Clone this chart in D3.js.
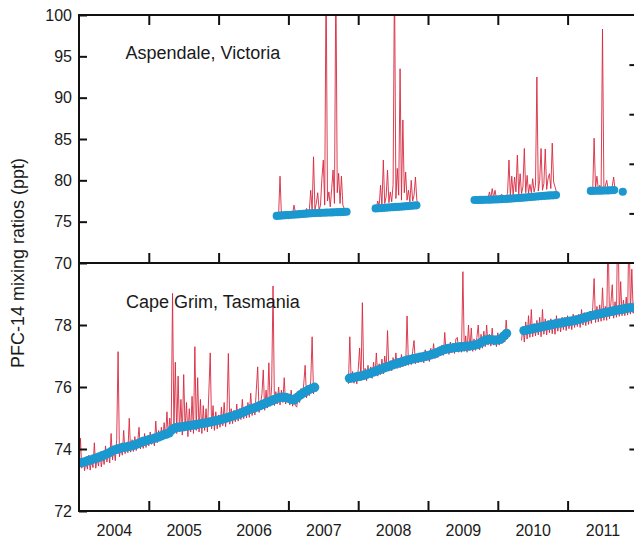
<!DOCTYPE html>
<html>
<head>
<meta charset="utf-8">
<script src="https://cdn.jsdelivr.net/npm/d3@7"></script>
<style>
  html, body { margin: 0; padding: 0; background: #ffffff; }
  svg { display: block; }
  text { font-family: "Liberation Sans", Arial, Helvetica, sans-serif; fill: #1a1a1a; }
</style>
</head>
<body>
<svg id="chart" width="634" height="539"></svg>
<script>
// ---------------- DATA ----------------
const yearBoundaries = [2005, 2006, 2007, 2008, 2009, 2010, 2011];
const yearLabels = ["2004", "2005", "2006", "2007", "2008", "2009", "2010", "2011"];
const topTicks = [70, 75, 80, 85, 90, 95, 100];
const topRightTicks = [76, 82, 88, 94];
const bottomTicks = [72, 74, 76, 78];
const panelLabels = ["Aspendale, Victoria", "Cape Grim, Tasmania"];
const yTitle = "PFC-14 mixing ratios (ppt)";

const redStep = 0.02;     // years between in situ measurements (red)
const blueStep = 1 / 24;  // years between baseline values (blue)

// Cape Grim – baseline (blue)
const cgBlueStart = [2004.0, 2007.875, 2010.375];
const cgBlue1 = [73.55, 73.57, 73.58, 73.62, 73.64, 73.68, 73.71, 73.74, 73.78, 73.82, 73.86, 73.91,
  73.96, 73.99, 74.02, 74.05, 74.06, 74.08, 74.10, 74.13, 74.16, 74.20, 74.24, 74.27,
  74.30, 74.32, 74.35, 74.38, 74.41, 74.45, 74.48, 74.52, 74.62, 74.68, 74.70, 74.71,
  74.72, 74.74, 74.75, 74.77, 74.78, 74.80, 74.82, 74.83, 74.85, 74.87, 74.89, 74.91,
  74.93, 74.95, 74.98, 75.01, 75.04, 75.07, 75.10, 75.13, 75.17, 75.21, 75.25, 75.29,
  75.32, 75.35, 75.39, 75.43, 75.47, 75.51, 75.55, 75.59, 75.63, 75.66, 75.67, 75.66,
  75.64, 75.60, 75.58, 75.66, 75.74, 75.80, 75.86, 75.91, 75.95, 75.99];
const cgBlue2 = [76.28, 76.30, 76.32, 76.34, 76.36, 76.38, 76.41, 76.44, 76.48, 76.51,
  76.55, 76.58, 76.62, 76.65, 76.69, 76.72, 76.75, 76.78, 76.81, 76.84,
  76.87, 76.89, 76.91, 76.93, 76.95, 76.97, 76.99, 77.01, 77.04, 77.07,
  77.11, 77.15, 77.19, 77.22, 77.24, 77.25, 77.27, 77.28, 77.29, 77.30,
  77.31, 77.32, 77.34, 77.35, 77.37, 77.42, 77.48, 77.52, 77.53, 77.52,
  77.51, 77.52, 77.55, 77.64, 77.73];
const cgBlue3 = [77.82, 77.84, 77.86, 77.88, 77.90, 77.92, 77.94, 77.96, 77.98, 78.00,
  78.02, 78.04, 78.06, 78.07, 78.09, 78.11, 78.12, 78.14, 78.16, 78.18,
  78.21, 78.24, 78.27, 78.30, 78.32, 78.34, 78.36, 78.38, 78.40, 78.42,
  78.44, 78.46, 78.48, 78.50, 78.51, 78.53, 78.55, 78.56];

// Cape Grim – all in situ measurements (red)
const cgRedStart = [2004.0, 2007.86, 2010.34];
const cgRed1 = [
  73.30, 74.35, 73.38, 73.70, 73.30, 73.62, 73.35, 73.80, 73.32, 73.66,
  73.40, 74.20, 73.38, 73.72, 73.45, 73.90, 73.42, 73.80, 73.50, 74.10,
  73.58, 73.95, 73.55, 74.50, 73.65, 74.05, 73.62, 74.30, 77.14, 73.75,
  74.10, 73.80, 74.60, 73.85, 74.20, 73.88, 74.99, 73.90, 74.30, 73.92,
  74.40, 73.95, 74.20, 74.70, 74.00, 74.35, 74.02, 74.50, 74.05, 74.40,
  74.10, 74.55, 74.15, 74.45, 74.10, 74.90, 74.20, 74.60, 74.25, 74.70,
  74.30, 74.85, 74.35, 75.20, 74.38, 75.00, 74.42, 79.02, 74.60, 76.80,
  74.50, 76.35, 74.55, 75.60, 74.45, 76.40, 74.60, 75.50, 74.40, 75.30,
  74.55, 75.70, 74.50, 77.30, 74.60, 76.30, 74.55, 75.60, 74.50, 75.40,
  74.60, 75.30, 74.55, 75.80, 77.10, 74.65, 75.40, 74.60, 75.20, 74.65,
  75.10, 74.70, 75.35, 74.75, 75.50, 74.72, 75.20, 77.08, 74.80, 75.30,
  74.82, 75.25, 74.88, 75.45, 74.90, 75.30, 74.95, 75.60, 74.98, 75.35,
  75.00, 75.50, 75.02, 75.80, 75.08, 75.45, 75.10, 75.90, 76.65, 75.18,
  75.45, 75.75, 76.55, 75.25, 75.90, 75.32, 76.78, 75.38, 76.00, 79.26,
  75.40, 75.85, 75.45, 76.00, 75.42, 75.90, 75.50, 76.30, 75.45, 75.80,
  75.70, 75.42, 75.90, 75.38, 75.75, 75.40, 75.35, 75.85, 75.50, 75.95,
  75.70, 76.10, 76.70, 75.65, 76.05, 75.72, 76.20, 77.62, 75.78, 76.10,
  75.85];
const cgRed2 = [
  76.10, 77.62, 76.15, 76.50, 76.12, 76.45, 76.10, 76.55, 77.26, 76.20,
  78.72, 76.25, 76.60, 76.20, 76.70, 76.30, 76.65, 76.28, 76.80, 76.35,
  77.10, 76.35, 76.75, 76.40, 76.90, 76.42, 77.00, 76.50, 77.82, 76.55,
  76.85, 76.52, 76.95, 76.58, 77.10, 76.60, 76.90, 76.62, 77.05, 76.65,
  76.95, 76.68, 78.29, 76.70, 77.00, 76.72, 77.15, 77.50, 76.75, 77.05,
  76.78, 77.10, 76.80, 77.00, 76.78, 77.20, 76.85, 77.05, 76.82, 77.25,
  76.90, 77.40, 76.92, 77.20, 76.95, 77.30, 77.00, 77.35, 77.02, 77.76,
  77.08, 77.35, 77.05, 77.45, 77.10, 77.40, 77.08, 77.55, 77.60, 77.12,
  77.45, 77.12, 79.72, 77.15, 77.65, 77.12, 78.00, 77.18, 77.90, 77.15,
  77.55, 77.18, 77.60, 78.00, 77.20, 77.70, 77.25, 77.80, 77.30, 78.00,
  77.35, 77.70, 77.32, 77.90, 77.35, 77.65, 77.30, 77.75, 77.35, 77.60,
  77.40, 77.80, 77.45, 78.16, 77.55, 77.85];
const cgRed3 = [
  77.50, 77.95, 77.45, 78.10, 77.55, 78.30, 77.60, 78.50, 77.62, 78.05,
  77.65, 78.15, 77.68, 78.25, 77.62, 78.50, 77.70, 78.20, 77.68, 78.15,
  77.75, 78.20, 77.72, 78.15, 77.70, 78.30, 77.80, 78.20, 77.78, 78.25,
  77.85, 78.25, 77.82, 78.30, 77.88, 78.20, 77.85, 78.35, 77.92, 78.30,
  77.95, 78.35, 77.92, 78.50, 78.00, 78.40, 77.98, 78.35, 78.02, 78.45,
  78.05, 78.55, 79.50, 78.08, 78.60, 78.10, 78.65, 78.12, 79.20, 78.15,
  78.60, 78.15, 81.00, 78.20, 78.70, 79.30, 78.22, 78.75, 78.25, 82.00,
  78.28, 79.40, 78.30, 78.80, 78.30, 78.90, 78.32, 81.50, 78.35, 79.80,
  78.38, 78.85];

// Aspendale – baseline (blue)
const asBlueStart = [2006.833, 2008.25, 2009.667, 2011.333];
const asBlue1 = [75.70, 75.72, 75.75, 75.78, 75.80, 75.83, 75.86, 75.88, 75.91, 75.94,
  75.97, 76.00, 76.02, 76.04, 76.05, 76.07, 76.08, 76.10, 76.11, 76.12,
  76.14, 76.15, 76.16, 76.18, 76.20];
const asBlue2 = [76.60, 76.62, 76.65, 76.67, 76.70, 76.73, 76.75, 76.78, 76.80, 76.83,
  76.86, 76.89, 76.92, 76.95, 76.98];
const asBlue3 = [77.62, 77.62, 77.63, 77.64, 77.65, 77.66, 77.67, 77.68, 77.70, 77.72,
  77.74, 77.76, 77.78, 77.80, 77.83, 77.86, 77.89, 77.92, 77.94, 77.97,
  78.00, 78.03, 78.06, 78.09, 78.12, 78.15, 78.17, 78.19, 78.22];
const asBlue4 = [78.72, 78.73, 78.74, 78.75, 78.76, 78.77, 78.78, 78.80, 78.82];
const asBlueExtraYear = [2011.79];
const asBlueExtraValue = [78.62];

// Aspendale – all in situ measurements (red)
const asRedStart = [2006.84, 2008.26, 2009.66, 2011.32];
const asRed1 = [
  75.70, 75.90, 80.50, 75.80, 76.00, 75.90, 76.10, 75.80, 76.00, 75.85,
  76.00, 75.90, 77.00, 76.10, 75.95, 76.30, 76.00, 76.20, 75.95, 76.40,
  76.10, 76.60, 76.05, 76.40, 78.80, 76.30, 82.85, 76.50, 77.20, 78.50,
  76.40, 77.00, 80.25, 82.45, 77.00, 105.0, 77.50, 78.60, 76.80, 79.00,
  81.25, 77.20, 105.0, 78.50, 80.85, 77.20, 80.50, 77.00, 76.60, 76.40,
  76.30];
const asRed2 = [
  76.70, 77.50, 76.80, 79.40, 76.90, 82.45, 77.20, 78.00, 81.25, 77.30,
  78.60, 77.40, 79.50, 105.0, 77.80, 81.45, 78.20, 93.50, 77.60, 87.30,
  78.50, 81.00, 77.60, 78.80, 77.40, 80.00, 77.50, 78.20, 80.40, 77.60,
  77.20];
const asRed3 = [
  77.60, 77.80, 77.65, 77.75, 77.70, 77.90, 77.70, 77.85, 77.75, 78.10,
  77.80, 78.60, 77.85, 79.00, 77.90, 78.80, 77.85, 78.10, 77.90, 78.20,
  78.30, 77.95, 78.20, 78.00, 78.40, 82.45, 78.10, 80.50, 78.20, 80.40,
  78.60, 83.05, 78.30, 80.80, 78.40, 79.20, 83.85, 78.50, 80.60, 78.40,
  79.50, 78.50, 80.20, 78.60, 79.40, 92.50, 78.70, 80.00, 83.85, 78.80,
  79.60, 83.80, 78.90, 80.20, 80.80, 79.00, 84.50, 79.80, 79.20, 78.60];
const asRed4 = [
  78.70, 79.20, 78.80, 85.10, 79.00, 80.50, 78.90, 79.40, 78.80, 98.30,
  78.90, 79.30, 80.00, 79.00, 79.20, 78.90, 79.30, 80.40, 78.80];

// ---------------- DRAWING ----------------
const RED = "#d8283e";
const BLUE = "#1a98cf";
const INK = "#111111";

const svg = d3.select("#chart");
const left = 79, right = 637.4;
const topY0 = 15, midY = 263, botY1 = 511;

const x = d3.scaleLinear().domain([2004, 2012]).range([left, right]);
const yTop = d3.scaleLinear().domain([70, 100]).range([midY, topY0]);
const yBot = d3.scaleLinear().domain([72, 80]).range([botY1, midY]);

const defs = svg.append("defs");
defs.append("clipPath").attr("id", "clipTop").append("rect")
  .attr("x", left).attr("y", topY0).attr("width", right - left).attr("height", midY - topY0);
defs.append("clipPath").attr("id", "clipBot").append("rect")
  .attr("x", left).attr("y", midY).attr("width", right - left).attr("height", botY1 - midY);

function toPoints(start, step, values) {
  return values.map((v, i) => [start + i * step, v]);
}

function drawPanel(clipId, y, redSegs, redStarts, blueSegs, blueStarts, extra, radius) {
  const g = svg.append("g").attr("clip-path", `url(#${clipId})`);
  const line = d3.line().x(d => x(d[0])).y(d => y(d[1]));
  redSegs.forEach((seg, k) => {
    g.append("path")
      .datum(toPoints(redStarts[k], redStep, seg))
      .attr("d", line)
      .attr("fill", "none")
      .attr("stroke", RED)
      .attr("stroke-width", 0.9)
      .attr("stroke-linejoin", "round");
  });
  let pts = [];
  blueSegs.forEach((seg, k) => { pts = pts.concat(toPoints(blueStarts[k], blueStep, seg)); });
  if (extra) pts = pts.concat(extra);
  g.selectAll("circle.b" + clipId).data(pts).enter().append("circle")
    .attr("cx", d => x(d[0])).attr("cy", d => y(d[1])).attr("r", radius)
    .attr("fill", BLUE);
}

drawPanel("clipTop", yTop, [asRed1, asRed2, asRed3, asRed4], asRedStart,
  [asBlue1, asBlue2, asBlue3, asBlue4], asBlueStart,
  asBlueExtraYear.map((yr, i) => [yr, asBlueExtraValue[i]]), 4.1);
drawPanel("clipBot", yBot, [cgRed1, cgRed2, cgRed3], cgRedStart,
  [cgBlue1, cgBlue2, cgBlue3], cgBlueStart, null, 4.7);

// ---- axes ----
function styleAxis(g) {
  g.select(".domain").remove();
  g.selectAll(".tick line").attr("stroke", INK).attr("stroke-width", 2);
  g.selectAll(".tick text").attr("font-size", 16).attr("fill", "#1a1a1a")
    .attr("font-family", "'Liberation Sans', Arial, sans-serif");
}

// year ticks: top edge (down), divider (up), bottom (up)
svg.append("g").attr("transform", `translate(0,${topY0})`)
  .call(d3.axisBottom(x).tickValues(yearBoundaries).tickSize(10).tickFormat(""))
  .call(styleAxis);
svg.append("g").attr("transform", `translate(0,${midY})`)
  .call(d3.axisTop(x).tickValues(yearBoundaries).tickSize(10).tickFormat(""))
  .call(styleAxis);
svg.append("g").attr("transform", `translate(0,${botY1})`)
  .call(d3.axisTop(x).tickValues(yearBoundaries).tickSize(10).tickFormat(""))
  .call(styleAxis);

// year labels centred in each year
const midYears = yearLabels.map(s => +s + 0.5);
svg.append("g").attr("transform", `translate(0,${botY1})`)
  .call(d3.axisBottom(x).tickValues(midYears).tickSize(0).tickPadding(13.5)
    .tickFormat((d, i) => yearLabels[i]))
  .call(styleAxis);

// left axes
svg.append("g").attr("transform", `translate(${left},0)`)
  .call(d3.axisLeft(yTop).tickValues(topTicks).tickSize(-8).tickPadding(7).tickFormat(d3.format("d")))
  .call(styleAxis);
svg.append("g").attr("transform", `translate(${left},0)`)
  .call(d3.axisLeft(yBot).tickValues(bottomTicks).tickSize(-8).tickPadding(7).tickFormat(d3.format("d")))
  .call(styleAxis);

// right axes (ticks only)
svg.append("g").attr("transform", `translate(${right},0)`)
  .call(d3.axisRight(yTop).tickValues(topRightTicks).tickSize(-8).tickFormat(""))
  .call(styleAxis);
svg.append("g").attr("transform", `translate(${right},0)`)
  .call(d3.axisRight(yBot).tickValues(bottomTicks.slice(1)).tickSize(-8).tickFormat(""))
  .call(styleAxis);

// frame
const frame = svg.append("g").attr("stroke", INK).attr("stroke-width", 2).attr("fill", "none");
frame.append("line").attr("x1", left).attr("x2", left).attr("y1", topY0 - 1).attr("y2", botY1 + 1);
frame.append("line").attr("x1", right).attr("x2", right).attr("y1", topY0 - 1).attr("y2", botY1 + 1);
frame.append("line").attr("x1", left).attr("x2", right).attr("y1", topY0).attr("y2", topY0);
frame.append("line").attr("x1", left).attr("x2", right).attr("y1", midY).attr("y2", midY);
frame.append("line").attr("x1", left).attr("x2", right).attr("y1", botY1).attr("y2", botY1);

// panel labels
svg.append("text").attr("x", 125.5).attr("y", 59).attr("font-size", 18).text(panelLabels[0]);
svg.append("text").attr("x", 126).attr("y", 307.5).attr("font-size", 18).text(panelLabels[1]);

// y title
svg.append("text")
  .attr("transform", `translate(24,${(topY0 + botY1) / 2}) rotate(-90)`)
  .attr("text-anchor", "middle")
  .attr("font-size", 18)
  .text(yTitle);
</script>
</body>
</html>
